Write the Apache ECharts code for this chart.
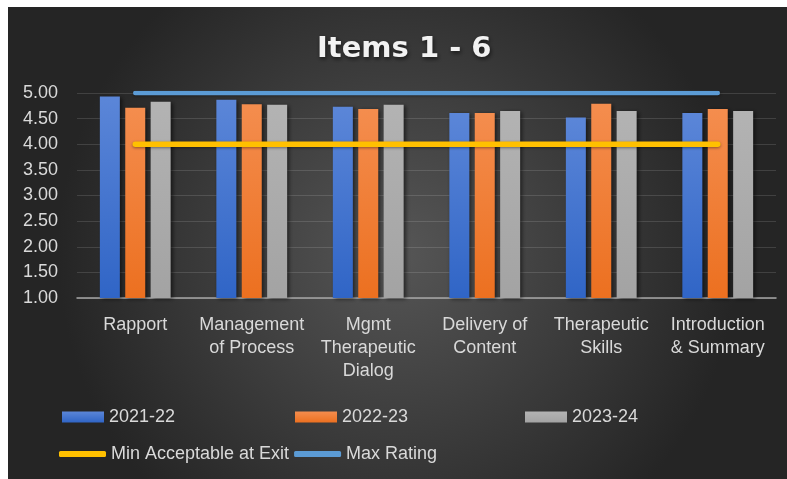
<!DOCTYPE html>
<html>
<head>
<meta charset="utf-8">
<script src="https://cdn.jsdelivr.net/npm/echarts@6/dist/echarts.min.js"></script>
<style>
  html, body { margin: 0; padding: 0; background: #ffffff; }
  #chart { position: absolute; left: 8px; top: 7px; width: 779px; height: 472px; }
</style>
</head>
<body>
<div id="chart"></div>
<script>
const categories = [
  'Rapport',
  'Management\nof Process',
  'Mgmt\nTherapeutic\nDialog',
  'Delivery of\nContent',
  'Therapeutic\nSkills',
  'Introduction\n& Summary'
]
const years2122 = [4.93, 4.87, 4.73, 4.61, 4.52, 4.61]
const years2223 = [4.71, 4.78, 4.69, 4.61, 4.79, 4.69]
const years2324 = [4.83, 4.77, 4.77, 4.65, 4.65, 4.65]
const minAcceptable = [4, 4, 4, 4, 4, 4]
const maxRating = [5, 5, 5, 5, 5, 5]

const font = 'Liberation Sans, Arial, sans-serif'
const labelColor = '#d9d9d9'

const grad = (top, bottom) => new echarts.graphic.LinearGradient(0, 0, 0, 1, [
  { offset: 0, color: top },
  { offset: 1, color: bottom }
])

const barSeries = (name, data, top, bottom) => ({
  name,
  type: 'bar',
  data,
  barWidth: 20,
  barGap: '27%',
  itemStyle: {
    color: grad(top, bottom),
    shadowColor: 'rgba(0,0,0,0.55)',
    shadowBlur: 4,
    shadowOffsetX: 2,
    shadowOffsetY: 1
  }
})

const lineSeries = (name, data, color, width) => ({
  name,
  type: 'line',
  data,
  showSymbol: false,
  symbol: 'none',
  z: 5,
  lineStyle: {
    color,
    width,
    cap: 'round',
    shadowColor: 'rgba(0,0,0,0.4)',
    shadowBlur: 3,
    shadowOffsetY: 1
  },
  itemStyle: { color }
})

const legendText = { color: labelColor, fontSize: 18, fontFamily: font }
const barLegend = (name, left) => ({
  data: [{ name, icon: 'rect' }],
  left,
  top: 401,
  padding: 0,
  itemWidth: 42,
  itemHeight: 11,
  itemStyle: { shadowBlur: 0, shadowOffsetX: 0, shadowOffsetY: 0 },
  textStyle: legendText
})

const chart = echarts.init(document.getElementById('chart'))
chart.setOption({
  animation: false,
  backgroundColor: {
    type: 'radial', x: 0.5, y: 0.52, r: 0.72,
    colorStops: [
      { offset: 0, color: '#565656' },
      { offset: 1, color: '#252525' }
    ]
  },
  title: {
    text: 'Items 1 - 6',
    left: 309,
    top: 28,
    padding: 0,
    textStyle: {
      color: '#f2f2f2',
      fontSize: 29,
      fontWeight: 'bold',
      fontFamily: 'DejaVu Sans, sans-serif',
      textShadowColor: 'rgba(0,0,0,0.6)',
      textShadowBlur: 4,
      textShadowOffsetX: 1,
      textShadowOffsetY: 2
    }
  },
  legend: [
    barLegend('2021-22', 54),
    barLegend('2022-23', 287),
    barLegend('2023-24', 517),
    {
      data: [
        { name: 'Min Acceptable at Exit', icon: 'roundRect' },
        { name: 'Max Rating', icon: 'roundRect' }
      ],
      left: 51, top: 438, padding: 0, itemWidth: 47, itemHeight: 6, itemGap: 5,
      textStyle: legendText
    }
  ],
  grid: { left: 69, right: 11, top: 86, bottom: 181, containLabel: false },
  xAxis: {
    type: 'category',
    data: categories,
    axisTick: { show: false },
    axisLine: { lineStyle: { color: '#a6a6a6', width: 1.5 } },
    axisLabel: {
      color: labelColor,
      fontSize: 18,
      fontFamily: font,
      lineHeight: 23,
      margin: 16,
      interval: 0
    }
  },
  yAxis: {
    type: 'value',
    min: 1,
    max: 5,
    interval: 0.5,
    axisLine: { show: false },
    axisTick: { show: false },
    splitLine: { lineStyle: { color: 'rgba(255,255,255,0.13)', width: 1 } },
    axisLabel: {
      color: labelColor,
      fontSize: 18,
      fontFamily: font,
      margin: 19,
      formatter: (v) => v.toFixed(2)
    }
  },
  series: [
    barSeries('2021-22', years2122, '#5b86d8', '#3065c6'),
    barSeries('2022-23', years2223, '#f48d4e', '#ec7020'),
    barSeries('2023-24', years2324, '#b3b3b3', '#a3a3a3'),
    lineSeries('Min Acceptable at Exit', minAcceptable, '#ffc000', 5.5),
    lineSeries('Max Rating', maxRating, '#5b9bd5', 4.5)
  ]
})
</script>
</body>
</html>
